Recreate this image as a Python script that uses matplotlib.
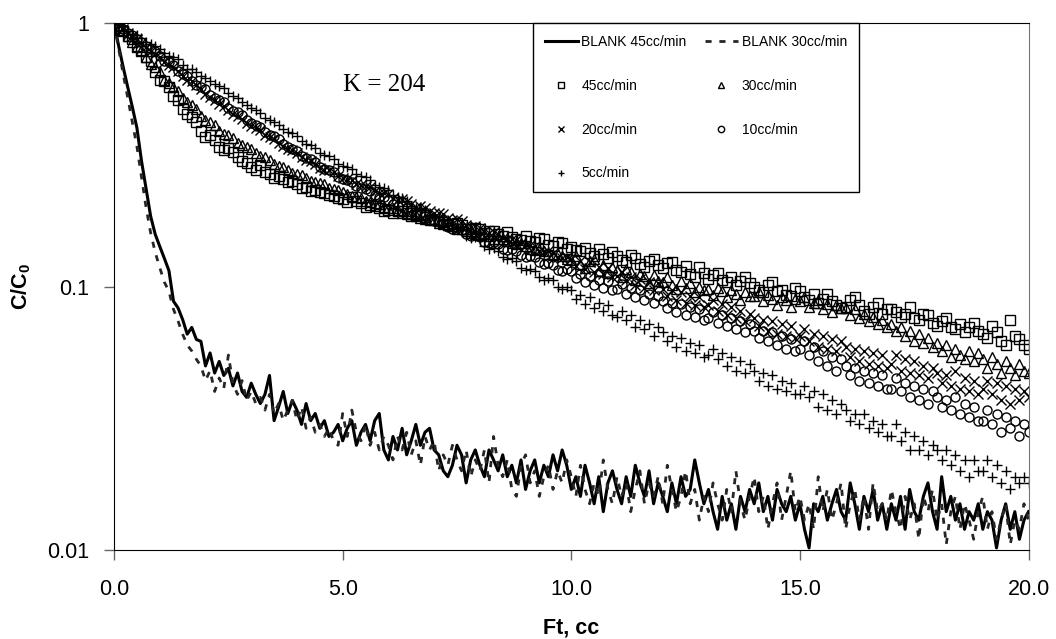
import numpy as np
import matplotlib
matplotlib.use("Agg")
import matplotlib.pyplot as plt

plt.rcParams["font.family"] = ["Liberation Sans", "DejaVu Sans"]
plt.rcParams["mathtext.fontset"] = "custom"
plt.rcParams["mathtext.rm"] = "Liberation Sans"
plt.rcParams["mathtext.bf"] = "Liberation Sans:bold"

# blank runs, sampled every 0.1 cc
ft_blank = np.round(np.arange(0, 20.01, 0.1), 1)
blank_45 = [
    1.0, 0.82, 0.68, 0.57, 0.48, 0.40, 0.30, 0.235, 0.185, 0.158,
    0.142, 0.128, 0.115, 0.088, 0.083, 0.075, 0.066, 0.070, 0.063, 0.062,
    0.050, 0.056, 0.047, 0.052, 0.046, 0.049, 0.042, 0.047, 0.040, 0.038,
    0.043, 0.039, 0.036, 0.039, 0.046, 0.031, 0.035, 0.040, 0.033, 0.037,
    0.034, 0.030, 0.036, 0.031, 0.033, 0.029, 0.031, 0.027, 0.028, 0.030,
    0.026, 0.029, 0.031, 0.025, 0.028, 0.030, 0.026, 0.031, 0.033, 0.024,
    0.022, 0.027, 0.024, 0.029, 0.023, 0.026, 0.030, 0.025, 0.028, 0.029,
    0.024, 0.023, 0.020, 0.019, 0.021, 0.025, 0.023, 0.018, 0.022, 0.024,
    0.021, 0.019, 0.024, 0.022, 0.020, 0.023, 0.019, 0.021, 0.018, 0.022,
    0.017, 0.020, 0.022, 0.018, 0.021, 0.019, 0.023, 0.020, 0.024, 0.021,
    0.017, 0.019, 0.016, 0.021, 0.018, 0.015, 0.019, 0.014, 0.018, 0.020,
    0.017, 0.015, 0.019, 0.016, 0.021, 0.018, 0.016, 0.020, 0.015, 0.018,
    0.016, 0.014, 0.018, 0.015, 0.019, 0.016, 0.017, 0.022, 0.018, 0.015,
    0.017, 0.014, 0.012, 0.016, 0.013, 0.015, 0.012, 0.016, 0.014, 0.017,
    0.015, 0.018, 0.014, 0.016, 0.013, 0.017, 0.015, 0.014, 0.016, 0.013,
    0.015, 0.012, 0.0102, 0.015, 0.014, 0.016, 0.013, 0.015, 0.017, 0.014,
    0.013, 0.018, 0.015, 0.012, 0.016, 0.014, 0.017, 0.013, 0.015, 0.012,
    0.015, 0.013, 0.016, 0.012, 0.017, 0.014, 0.013, 0.016, 0.018, 0.014,
    0.012, 0.019, 0.014, 0.016, 0.013, 0.015, 0.012, 0.014, 0.013, 0.015,
    0.012, 0.014, 0.013, 0.0102, 0.013, 0.015, 0.012, 0.014, 0.011, 0.013,
    0.014,
]
blank_30 = [
    1.0, 0.80, 0.64, 0.52, 0.42, 0.34, 0.26, 0.20, 0.16, 0.135,
    0.118, 0.104, 0.096, 0.082, 0.074, 0.066, 0.060, 0.057, 0.053, 0.050,
    0.044, 0.048, 0.040, 0.045, 0.041, 0.055, 0.043, 0.039, 0.044, 0.037,
    0.040, 0.036, 0.038, 0.034, 0.039, 0.033, 0.036, 0.031, 0.034, 0.037,
    0.031, 0.035, 0.029, 0.032, 0.028, 0.030, 0.027, 0.029, 0.026, 0.025,
    0.033, 0.027, 0.034, 0.028, 0.026, 0.030, 0.025, 0.028, 0.024, 0.027,
    0.025, 0.022, 0.027, 0.024, 0.028, 0.023, 0.026, 0.021, 0.027, 0.024,
    0.026, 0.020, 0.023, 0.021, 0.025, 0.022, 0.020, 0.024, 0.019, 0.022,
    0.020, 0.024, 0.018, 0.027, 0.021, 0.019, 0.022, 0.017, 0.016, 0.021,
    0.023, 0.018, 0.020, 0.016, 0.019, 0.021, 0.017, 0.020, 0.018, 0.022,
    0.019, 0.016, 0.021, 0.017, 0.015, 0.018, 0.016, 0.022, 0.017, 0.015,
    0.019, 0.016, 0.018, 0.014, 0.017, 0.020, 0.015, 0.018, 0.016, 0.019,
    0.015, 0.021, 0.017, 0.014, 0.016, 0.020, 0.015, 0.017, 0.013, 0.016,
    0.014, 0.018, 0.015, 0.013, 0.017, 0.014, 0.020, 0.015, 0.013, 0.016,
    0.019, 0.014, 0.016, 0.012, 0.015, 0.018, 0.013, 0.016, 0.020, 0.014,
    0.016, 0.013, 0.015, 0.012, 0.019, 0.014, 0.017, 0.013, 0.015, 0.018,
    0.012, 0.015, 0.017, 0.013, 0.016, 0.012, 0.018, 0.014, 0.015, 0.013,
    0.017, 0.014, 0.012, 0.016, 0.013, 0.015, 0.011, 0.016, 0.014, 0.017,
    0.013, 0.015, 0.0105, 0.014, 0.016, 0.012, 0.015, 0.013, 0.011, 0.014,
    0.016, 0.012, 0.014, 0.011, 0.013, 0.015, 0.0105, 0.013, 0.012, 0.015,
    0.013,
]

# packed-bed runs, sampled every 0.1 cc
ft_run = np.round(np.arange(0, 20.01, 0.1), 1)
run_45 = [
    1.00, 0.97, 0.93, 0.89, 0.87, 0.81, 0.78, 0.74, 0.72, 0.65,
    0.61, 0.60, 0.57, 0.53, 0.51, 0.47, 0.45, 0.44, 0.42, 0.39,
    0.37, 0.375, 0.36, 0.34, 0.33, 0.335, 0.325, 0.31, 0.30, 0.295,
    0.285, 0.278, 0.29, 0.272, 0.268, 0.259, 0.262, 0.255, 0.25, 0.252,
    0.245, 0.236, 0.238, 0.231, 0.233, 0.228, 0.226, 0.222, 0.221, 0.216,
    0.214, 0.209, 0.219, 0.211, 0.207, 0.201, 0.204, 0.202, 0.199, 0.193,
    0.196, 0.190, 0.193, 0.194, 0.191, 0.185, 0.186, 0.188, 0.183, 0.179,
    0.181, 0.177, 0.176, 0.172, 0.173, 0.175, 0.171, 0.166, 0.165, 0.167,
    0.165, 0.160, 0.163, 0.162, 0.158, 0.155, 0.161, 0.154, 0.152, 0.150,
    0.156, 0.149, 0.147, 0.153, 0.151, 0.144, 0.142, 0.148, 0.146, 0.139,
    0.141, 0.138, 0.136, 0.140, 0.134, 0.131, 0.139, 0.133, 0.128, 0.135,
    0.131, 0.126, 0.124, 0.132, 0.128, 0.122, 0.119, 0.125, 0.127, 0.121,
    0.118, 0.123, 0.124, 0.116, 0.114, 0.120, 0.112, 0.109, 0.119, 0.113,
    0.107, 0.111, 0.113, 0.106, 0.104, 0.109, 0.101, 0.105, 0.109, 0.103,
    0.100, 0.097, 0.095, 0.101, 0.104, 0.096, 0.097, 0.093, 0.092, 0.099,
    0.096, 0.091, 0.089, 0.094, 0.087, 0.090, 0.094, 0.088, 0.085, 0.083,
    0.084, 0.089, 0.091, 0.085, 0.081, 0.079, 0.084, 0.087, 0.079, 0.082,
    0.082, 0.080, 0.077, 0.079, 0.084, 0.076, 0.075, 0.079, 0.078, 0.073,
    0.071, 0.074, 0.076, 0.070, 0.069, 0.072, 0.067, 0.070, 0.073, 0.068,
    0.066, 0.064, 0.071, 0.067, 0.062, 0.060, 0.075, 0.065, 0.063, 0.060,
    0.058,
]
run_30 = [
    1.00, 0.96, 0.94, 0.89, 0.85, 0.82, 0.79, 0.74, 0.70, 0.68,
    0.65, 0.61, 0.59, 0.57, 0.55, 0.52, 0.50, 0.49, 0.47, 0.445,
    0.43, 0.42, 0.41, 0.39, 0.38, 0.375, 0.365, 0.35, 0.345, 0.338,
    0.332, 0.32, 0.314, 0.309, 0.302, 0.292, 0.287, 0.284, 0.278, 0.27,
    0.267, 0.264, 0.259, 0.252, 0.249, 0.247, 0.244, 0.237, 0.234, 0.232,
    0.229, 0.224, 0.221, 0.219, 0.216, 0.211, 0.209, 0.208, 0.205, 0.200,
    0.199, 0.198, 0.196, 0.191, 0.189, 0.189, 0.187, 0.182, 0.180, 0.181,
    0.179, 0.175, 0.173, 0.172, 0.170, 0.166, 0.165, 0.165, 0.163, 0.159,
    0.157, 0.158, 0.156, 0.152, 0.151, 0.151, 0.149, 0.146, 0.145, 0.146,
    0.143, 0.139, 0.138, 0.139, 0.137, 0.133, 0.132, 0.133, 0.131, 0.127,
    0.126, 0.131, 0.122, 0.118, 0.125, 0.127, 0.115, 0.121, 0.113, 0.119,
    0.116, 0.109, 0.117, 0.114, 0.106, 0.112, 0.110, 0.103, 0.111, 0.105,
    0.104, 0.109, 0.101, 0.098, 0.105, 0.099, 0.103, 0.095, 0.100, 0.097,
    0.098, 0.093, 0.099, 0.096, 0.091, 0.097, 0.094, 0.089, 0.095, 0.092,
    0.092, 0.095, 0.088, 0.093, 0.090, 0.085, 0.091, 0.089, 0.084, 0.090,
    0.088, 0.091, 0.084, 0.087, 0.089, 0.082, 0.086, 0.080, 0.085, 0.083,
    0.083, 0.078, 0.082, 0.076, 0.079, 0.074, 0.077, 0.072, 0.075, 0.070,
    0.072, 0.068, 0.070, 0.065, 0.068, 0.062, 0.066, 0.061, 0.064, 0.059,
    0.061, 0.057, 0.060, 0.054, 0.058, 0.055, 0.053, 0.057, 0.052, 0.056,
    0.053, 0.049, 0.054, 0.051, 0.047, 0.052, 0.049, 0.046, 0.051, 0.048,
    0.047,
]
run_20 = [
    1.00, 0.98, 0.95, 0.92, 0.89, 0.87, 0.84, 0.81, 0.78, 0.76,
    0.74, 0.71, 0.69, 0.68, 0.66, 0.63, 0.61, 0.60, 0.58, 0.56,
    0.54, 0.525, 0.51, 0.495, 0.485, 0.466, 0.452, 0.445, 0.433, 0.418,
    0.408, 0.398, 0.392, 0.377, 0.368, 0.362, 0.352, 0.341, 0.333, 0.329,
    0.322, 0.31, 0.303, 0.299, 0.292, 0.283, 0.278, 0.276, 0.271, 0.263,
    0.258, 0.257, 0.254, 0.246, 0.242, 0.241, 0.238, 0.230, 0.226, 0.227,
    0.224, 0.217, 0.213, 0.214, 0.211, 0.205, 0.201, 0.202, 0.199, 0.193,
    0.190, 0.191, 0.188, 0.182, 0.179, 0.180, 0.177, 0.172, 0.169, 0.170,
    0.167, 0.162, 0.160, 0.161, 0.158, 0.153, 0.151, 0.152, 0.150, 0.146,
    0.144, 0.144, 0.142, 0.137, 0.135, 0.136, 0.134, 0.130, 0.128, 0.129,
    0.127, 0.120, 0.125, 0.117, 0.124, 0.114, 0.119, 0.112, 0.118, 0.109,
    0.110, 0.114, 0.106, 0.109, 0.101, 0.107, 0.099, 0.104, 0.097, 0.103,
    0.098, 0.092, 0.097, 0.089, 0.095, 0.087, 0.092, 0.085, 0.091, 0.084,
    0.085, 0.089, 0.081, 0.086, 0.078, 0.084, 0.076, 0.081, 0.074, 0.079,
    0.076, 0.071, 0.075, 0.068, 0.074, 0.066, 0.072, 0.065, 0.071, 0.064,
    0.065, 0.069, 0.062, 0.066, 0.059, 0.065, 0.058, 0.063, 0.057, 0.062,
    0.059, 0.054, 0.058, 0.052, 0.057, 0.051, 0.056, 0.050, 0.055, 0.049,
    0.051, 0.055, 0.048, 0.053, 0.047, 0.052, 0.046, 0.050, 0.045, 0.049,
    0.047, 0.043, 0.046, 0.042, 0.048, 0.041, 0.045, 0.040, 0.044, 0.039,
    0.041, 0.044, 0.039, 0.043, 0.037, 0.042, 0.036, 0.041, 0.037, 0.040,
    0.038,
]
run_10 = [
    1.00, 0.97, 0.95, 0.92, 0.90, 0.87, 0.85, 0.82, 0.80, 0.78,
    0.75, 0.72, 0.71, 0.69, 0.66, 0.64, 0.63, 0.60, 0.58, 0.57,
    0.56, 0.535, 0.52, 0.51, 0.50, 0.478, 0.465, 0.458, 0.447, 0.428,
    0.418, 0.411, 0.402, 0.386, 0.377, 0.372, 0.362, 0.347, 0.338, 0.334,
    0.326, 0.314, 0.308, 0.304, 0.296, 0.285, 0.279, 0.277, 0.271, 0.261,
    0.256, 0.254, 0.249, 0.240, 0.236, 0.235, 0.230, 0.222, 0.218, 0.218,
    0.213, 0.206, 0.203, 0.203, 0.199, 0.192, 0.189, 0.190, 0.186, 0.179,
    0.177, 0.177, 0.174, 0.168, 0.166, 0.167, 0.164, 0.158, 0.156, 0.157,
    0.154, 0.148, 0.146, 0.147, 0.145, 0.139, 0.138, 0.139, 0.137, 0.132,
    0.130, 0.131, 0.129, 0.124, 0.122, 0.123, 0.121, 0.116, 0.115, 0.117,
    0.115, 0.108, 0.112, 0.104, 0.110, 0.101, 0.106, 0.099, 0.105, 0.097,
    0.098, 0.102, 0.094, 0.099, 0.091, 0.097, 0.089, 0.094, 0.087, 0.092,
    0.088, 0.083, 0.087, 0.080, 0.086, 0.078, 0.084, 0.077, 0.082, 0.075,
    0.076, 0.080, 0.073, 0.078, 0.071, 0.076, 0.069, 0.074, 0.067, 0.072,
    0.068, 0.064, 0.068, 0.062, 0.067, 0.060, 0.065, 0.058, 0.063, 0.057,
    0.058, 0.062, 0.055, 0.059, 0.052, 0.057, 0.050, 0.054, 0.048, 0.053,
    0.050, 0.046, 0.049, 0.044, 0.048, 0.043, 0.047, 0.042, 0.046, 0.041,
    0.041, 0.045, 0.040, 0.043, 0.038, 0.042, 0.037, 0.041, 0.036, 0.040,
    0.038, 0.035, 0.037, 0.034, 0.038, 0.033, 0.036, 0.032, 0.035, 0.031,
    0.031, 0.034, 0.030, 0.033, 0.028, 0.032, 0.029, 0.031, 0.027, 0.030,
    0.028,
]
run_5 = [
    1.00, 0.99, 0.97, 0.93, 0.91, 0.90, 0.88, 0.85, 0.83, 0.82,
    0.80, 0.77, 0.75, 0.74, 0.73, 0.69, 0.67, 0.67, 0.65, 0.63,
    0.62, 0.60, 0.585, 0.578, 0.565, 0.541, 0.527, 0.518, 0.503, 0.487,
    0.478, 0.469, 0.457, 0.438, 0.428, 0.422, 0.412, 0.395, 0.387, 0.381,
    0.372, 0.356, 0.348, 0.344, 0.337, 0.322, 0.316, 0.313, 0.305, 0.293,
    0.288, 0.285, 0.279, 0.268, 0.262, 0.260, 0.254, 0.243, 0.238, 0.237,
    0.232, 0.223, 0.218, 0.217, 0.212, 0.203, 0.199, 0.199, 0.195, 0.186,
    0.183, 0.183, 0.179, 0.171, 0.167, 0.168, 0.164, 0.156, 0.153, 0.154,
    0.150, 0.143, 0.139, 0.140, 0.137, 0.130, 0.127, 0.128, 0.125, 0.118,
    0.116, 0.117, 0.115, 0.109, 0.106, 0.108, 0.106, 0.100, 0.098, 0.100,
    0.097, 0.090, 0.093, 0.086, 0.091, 0.083, 0.087, 0.081, 0.085, 0.078,
    0.077, 0.081, 0.075, 0.078, 0.070, 0.075, 0.069, 0.072, 0.065, 0.070,
    0.067, 0.062, 0.065, 0.059, 0.064, 0.057, 0.061, 0.056, 0.060, 0.054,
    0.055, 0.058, 0.053, 0.056, 0.050, 0.054, 0.048, 0.052, 0.047, 0.051,
    0.048, 0.044, 0.047, 0.042, 0.046, 0.041, 0.044, 0.040, 0.043, 0.039,
    0.039, 0.042, 0.038, 0.040, 0.035, 0.039, 0.034, 0.037, 0.033, 0.036,
    0.034, 0.031, 0.033, 0.030, 0.033, 0.029, 0.031, 0.028, 0.030, 0.027,
    0.027, 0.030, 0.026, 0.028, 0.024, 0.027, 0.024, 0.026, 0.023, 0.025,
    0.024, 0.022, 0.024, 0.021, 0.023, 0.020, 0.022, 0.019, 0.022, 0.020,
    0.020, 0.022, 0.019, 0.021, 0.018, 0.020, 0.017, 0.019, 0.018, 0.019,
    0.018,
]

fig, ax = plt.subplots(figsize=(10.56, 6.39), dpi=100)
fig.subplots_adjust(left=0.108, right=0.974, top=0.964, bottom=0.139)

h_b45, = ax.plot(ft_blank, blank_45, color="black", lw=2.2, label="BLANK 45cc/min")
h_b30, = ax.plot(ft_blank, blank_30, color="0.15", lw=2.0, dashes=(2.2, 2.8),
                 label="BLANK 30cc/min")

mk = dict(ls="none", ms=6.5, mew=1.0, mec="black", mfc="none")
h45, = ax.plot(ft_run, run_45, marker="s", label="45cc/min", **mk)
h30, = ax.plot(ft_run, run_30, marker="^", label="30cc/min", **mk)
h20, = ax.plot(ft_run, run_20, marker="x", label="20cc/min", **mk)
h10, = ax.plot(ft_run, run_10, marker="o", label="10cc/min", **mk)
h5, = ax.plot(ft_run, run_5, marker="+", label="5cc/min", **mk)

ax.set_yscale("log")
ax.set_ylim(0.01, 1)
ax.set_xlim(0, 20)
ax.set_xticks([0, 5, 10, 15, 20])
ax.set_xticklabels(["0.0", "5.0", "10.0", "15.0", "20.0"])
ax.set_yticks([0.01, 0.1, 1])
ax.set_yticklabels(["0.01", "0.1", "1"])
ax.minorticks_off()
ax.tick_params(axis="both", direction="out", length=7, width=1, color="0.4",
               labelsize=15.5)
ax.tick_params(axis="x", pad=14)
ax.tick_params(axis="y", pad=11)
ax.spines["right"].set_color("0.45")

ax.set_xlabel("Ft, cc", fontsize=15.5, fontweight="bold", labelpad=12)
ax.set_ylabel(r"$\mathbf{C/C_0}$", fontsize=15.5, labelpad=10)

ax.text(5.0, 0.55, "K = 204", family=["Liberation Serif", "DejaVu Serif"], fontsize=18)

# column-wise order so that rows read as in the original legend
handles = [h_b45, h45, h20, h5, h_b30, h30, h10]
leg = ax.legend(handles=handles, ncol=2, loc="upper left", bbox_to_anchor=(0.458, 1.0),
                borderaxespad=0, fontsize=10, frameon=True, fancybox=False,
                framealpha=1, edgecolor="black", labelspacing=2.15, handlelength=2.4,
                handletextpad=0.25, columnspacing=1.3, borderpad=0.85, markerscale=0.7)
leg.get_frame().set_linewidth(1.0)

fig.savefig("out.png", dpi=100)
